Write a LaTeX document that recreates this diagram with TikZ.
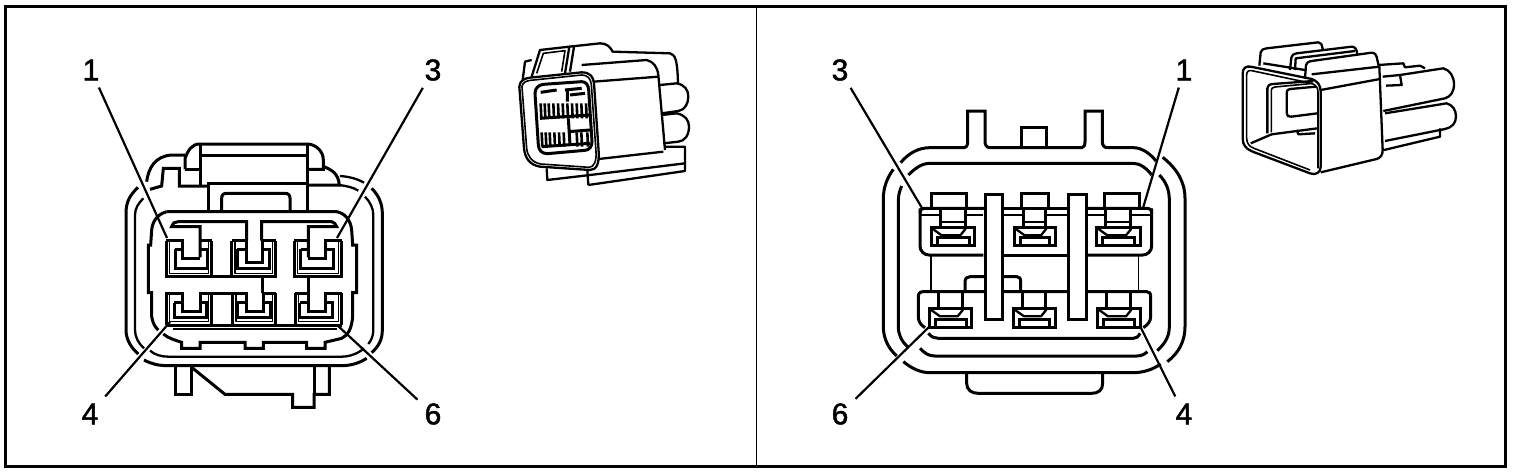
\documentclass[tikz,border=0pt]{standalone}
\usepackage{fontspec}
\setmainfont{Liberation Sans}[FakeBold=1.6]
\tikzset{
  px/.style={x=1pt,y=-1pt},
  zoomed/.style={x=0.33333pt,y=-0.33333pt},
  frameline/.style={line width=3pt,draw=black},
  divider/.style={line width=1pt,draw=black},
  heavy/.style={line width=3pt,draw=black,line join=miter},
  medium/.style={line width=2.3pt,draw=black,line join=round},
  fine/.style={line width=1.6pt,draw=black,line join=round},
  hair/.style={line width=0.8pt,draw=black},
  leader/.style={line width=2.2pt,draw=black},
  num/.style={font=\fontsize{30}{30}\selectfont,inner sep=7pt,text=black},
}
% top-row cavity of the left view: #1 = x shift, #2 = left wall, #3 = right wall
\newcommand{\lefttop}[3]{
  \draw[heavy] (#2,332) -- (#2,440) -- (#3,440) -- (#3,332);
  \draw[fine] (#2+10,335) -- (#2+10,430) -- (#3-10,430) -- (#3-10,335);
  \draw[heavy] (#1+195,358) -- (#1+218,358) (#1+195,358) -- (#1+195,415) -- (#1+292,415) -- (#1+292,358) -- (#1+270,358);
}
\newcommand{\leftbot}[3]{
  \draw[heavy] (#2,490) -- (#2,585) (#3,490) -- (#3,585);
  \draw[fine] (#2+10,495) -- (#2+10,575) -- (#3-10,575) -- (#3-10,495);
  \draw[heavy] (#1+192,518) -- (#1+192,562) -- (#1+290,562) -- (#1+290,518) -- (#1+270,518) (#1+192,518) -- (#1+218,518);
}
% cavities of the right view
\newcommand{\rightwin}[5]{
  \draw[heavy] (#1,#2) rectangle (#3,#4);
  \draw[medium] (#1+4,#2+4) -- (#1+32,#2+24) -- (#3-42,#2+24) -- (#3-26,#2+4);
  \draw[heavy] (#1+18,#4) -- (#1+18,#4-24) -- (#3-16,#4-24) -- (#3-16,#4);
  \draw[heavy] (#1+27,#5) -- (#1+27,#2) (#3-28,#5) -- (#3-28,#2);
}
\begin{document}
\begin{tikzpicture}[px]
\useasboundingbox (0,0) rectangle (1520,474);
\fill[white] (0,0) rectangle (1520,474);
\draw[frameline] (5,6) rectangle (1505,466);
\draw[divider] (756,6) -- (756,466);

%% LEFT CONNECTOR
\begin{scope}[shift={(110,130)},zoomed]
  % shells
  \draw[heavy] (84,172) .. controls (60,195) and (48,215) .. (48,250) -- (48,600) .. controls (48,630) and (65,655) .. (85,672);
  \draw[heavy] (102,690) .. controls (125,702) and (145,707) .. (175,707) -- (695,707) .. controls (725,707) and (750,698) .. (770,685);
  \draw[heavy] (785,175) .. controls (805,195) and (817,220) .. (817,250) -- (817,600) .. controls (817,630) and (805,650) .. (785,668);
  \draw[medium] (100,205) .. controls (85,220) and (75,235) .. (75,255) -- (75,600) .. controls (75,620) and (85,640) .. (102,655);
  \draw[medium] (120,662) .. controls (135,675) and (155,680) .. (175,680) -- (695,680) .. controls (720,680) and (745,670) .. (762,655);
  \draw[medium] (765,200) .. controls (780,215) and (790,235) .. (790,255) -- (790,600) .. controls (790,615) and (785,630) .. (775,642);
  % top of shell and latch
  \draw[heavy] (110,155) .. controls (115,115) and (135,78) .. (185,75) -- (225,75);
  \draw[heavy] (225,118) -- (225,85) .. controls (235,60) and (245,42) .. (270,42) -- (595,42) .. controls (620,45) and (640,65) .. (640,90) -- (640,118) -- (595,118);
  \draw[heavy] (225,118) -- (270,118) (270,42) -- (270,168) (592,42) -- (592,243) (270,75) -- (592,75);
  \draw[heavy] (120,178) -- (155,168) -- (160,115) -- (208,115) -- (208,168) -- (295,168);
  \draw[heavy] (295,243) -- (295,160) -- (592,160);
  \draw[heavy] (335,243) -- (335,205) .. controls (335,195) and (340,190) .. (350,190) -- (525,190) .. controls (535,190) and (540,195) .. (540,205) -- (540,243);
  \draw[heavy] (642,110) .. controls (665,120) and (685,130) .. (688,165) -- (592,165);
  \draw[medium] (690,138) .. controls (720,140) and (745,148) .. (762,158);
  \draw[medium] (688,165) .. controls (710,168) and (730,172) .. (745,182);
  % inner housing
  \draw[heavy] (170,245) -- (680,245) .. controls (705,250) and (722,270) .. (725,300) -- (728,345) -- (740,345) -- (740,488) -- (728,488) -- (728,560) .. controls (725,595) and (715,615) .. (695,625) -- (645,637) -- (645,655) -- (590,655) -- (590,637) -- (460,637) -- (460,655) -- (405,655) -- (405,637) -- (270,637) -- (270,655) -- (215,655) -- (215,637) .. controls (195,630) and (175,625) .. (160,612);
  \draw[heavy] (170,245) .. controls (145,252) and (128,270) .. (125,300) -- (122,345) -- (115,345) -- (115,488) -- (125,488) -- (125,560) .. controls (128,578) and (135,592) .. (145,600);
  % T-shaped ribs
  \draw[heavy] (270,382) -- (270,290) -- (185,290) .. controls (190,278) and (195,275) .. (205,275) -- (410,275) -- (410,332);
  \draw[heavy] (455,332) -- (455,275) -- (665,275) .. controls (672,277) and (678,282) .. (680,290) -- (595,290) -- (595,382);
  \draw[heavy] (168,332) -- (218,332) -- (218,385) -- (270,385);
  \draw[heavy] (270,332) -- (305,332) (365,332) -- (410,332) -- (410,397) -- (457,397) -- (457,332) -- (497,332) (552,332) -- (595,332);
  \draw[heavy] (595,385) -- (645,385) -- (645,332) -- (697,332);
  \lefttop{0}{168}{305}
  \lefttop{187}{365}{497}
  \lefttop{377}{552}{695}
  \draw[heavy] (305,440) -- (365,440);
  \draw[heavy] (457,440) -- (457,490) (595,440) -- (595,490);
  % lower row
  \draw[heavy] (165,490) -- (218,490) -- (218,545) -- (270,545) -- (270,490) -- (410,490) -- (410,545) -- (460,545) -- (460,490) -- (497,490) (555,490) -- (595,490) -- (595,545) -- (645,545) -- (645,490) -- (697,490);
  \leftbot{0}{168}{305}
  \leftbot{190}{368}{497}
  \leftbot{377}{555}{695}
  \draw[heavy] (168,585) -- (695,585);
  \draw[medium] (190,598) -- (680,598);
  % lower tabs
  \draw[heavy] (195,710) -- (195,793) -- (245,793) -- (245,710);
  \draw[heavy] (245,712) -- (345,793) -- (548,793) -- (548,832) -- (612,832) -- (612,793) -- (658,793) -- (658,710);
  \draw[heavy] (612,710) -- (612,793);
\end{scope}

%% RIGHT CONNECTOR
\begin{scope}[shift={(870,100)},zoomed]
  \draw[heavy] (92,188) .. controls (115,160) and (145,143) .. (180,143) -- (280,143) .. controls (290,143) and (293,135) .. (293,125) -- (293,33) -- (345,33) -- (345,125) .. controls (345,135) and (350,143) .. (360,143) -- (635,143) .. controls (642,143) and (645,135) .. (645,125) -- (645,33) -- (697,33) -- (697,125) .. controls (697,135) and (702,143) .. (712,143) -- (790,143) .. controls (815,143) and (840,160) .. (858,183);
  \draw[heavy] (878,172) .. controls (920,205) and (945,245) .. (945,295) -- (945,680) .. controls (945,725) and (925,760) .. (892,785);
  \draw[heavy] (70,208) .. controls (50,235) and (40,265) .. (40,295) -- (40,680) .. controls (40,715) and (55,745) .. (80,768);
  \draw[heavy] (100,785) .. controls (125,805) and (150,818) .. (180,818) -- (790,818) .. controls (820,818) and (850,808) .. (872,792);
  \draw[heavy] (455,143) -- (455,82) -- (530,82) -- (530,143);
  \draw[heavy] (290,818) -- (290,850) .. controls (290,870) and (305,880) .. (325,880) -- (665,880) .. controls (685,880) and (698,870) .. (698,850) -- (698,818);
  \draw[heavy] (115,225) .. controls (135,205) and (155,190) .. (180,190) -- (790,190) .. controls (810,190) and (830,205) .. (845,225);
  \draw[heavy] (868,225) .. controls (888,245) and (898,270) .. (898,300) -- (898,680) .. controls (898,710) and (885,730) .. (862,752);
  \draw[heavy] (95,258) .. controls (88,275) and (85,285) .. (85,305) -- (85,680) .. controls (85,705) and (95,725) .. (115,742);
  \draw[heavy] (150,745) .. controls (165,760) and (175,768) .. (195,768) -- (800,768) .. controls (815,768) and (825,762) .. (832,755);
  \draw[heavy] (175,700) .. controls (185,712) and (195,715) .. (205,715) -- (790,715) .. controls (800,715) and (805,710) .. (810,700);
  % top row
  \draw[heavy,rounded corners=9pt] (150,325) -- (150,465) -- (340,465);
  \draw[heavy] (150,340) .. controls (150,330) and (155,325) .. (165,325) -- (345,325);
  \draw[heavy,rounded corners=9pt] (402,465) -- (592,465);
  \draw[heavy] (400,325) -- (595,325);
  \draw[heavy] (650,325) -- (830,325) .. controls (840,325) and (845,330) .. (845,340);
  \draw[heavy,rounded corners=9pt] (650,465) -- (845,465) -- (845,325);
  \draw[medium] (150,346) -- (210,346) (285,346) -- (340,346) (402,346) -- (459,346) (527,346) -- (592,346) (650,346) -- (707,346) (782,346) -- (845,346);
  \draw[heavy] (183,325) -- (183,280) -- (288,280) -- (288,325) (453,325) -- (453,280) -- (535,280) -- (535,325) (703,325) -- (703,280) -- (807,280) -- (807,325);
  \rightwin{183}{382}{313}{435}{330}
  \rightwin{432}{382}{555}{435}{330}
  \rightwin{680}{382}{810}{435}{330}
  \draw[medium] (210,366) -- (285,366) (459,366) -- (527,366) (707,366) -- (782,366);
  % thin webs and bridge
  \draw[medium] (183,468) -- (183,575);
  \draw[hair] (805,468) -- (805,575);
  \draw[heavy] (285,575) -- (285,545) .. controls (285,535) and (292,530) .. (300,530) -- (440,530) .. controls (448,530) and (452,535) .. (452,545) -- (452,575);
  % bottom row
  \draw[heavy] (165,683) .. controls (152,675) and (145,665) .. (145,650) -- (145,590) .. controls (145,580) and (150,575) .. (160,575) -- (350,575) (400,575) -- (595,575) (648,575) -- (830,575) .. controls (838,575) and (842,580) .. (842,590) -- (842,650) .. controls (842,665) and (832,675) .. (820,683);
  \rightwin{178}{625}{305}{682}{578}
  \rightwin{430}{625}{555}{682}{578}
  \rightwin{682}{625}{810}{682}{578}
  % vertical bars over everything
  \filldraw[heavy,fill=white] (345,283) rectangle (398,658);
  \filldraw[heavy,fill=white] (595,283) rectangle (648,658);
\end{scope}

%% LEFT THUMBNAIL
\begin{scope}[shift={(510,35)},zoomed]
  \draw[medium] (28,155) .. controls (30,135) and (45,130) .. (60,128) -- (215,112) .. controls (240,112) and (250,125) .. (252,145) -- (266,350) .. controls (268,385) and (260,405) .. (240,405) -- (90,395) .. controls (60,390) and (45,370) .. (42,340) -- cycle;
  \draw[fine] (36,155) .. controls (38,142) and (48,138) .. (62,136) -- (215,120) .. controls (232,120) and (242,130) .. (244,148) -- (258,350) .. controls (260,378) and (252,396) .. (238,397) -- (92,387) .. controls (66,382) and (53,365) .. (50,340) -- cycle;
  \draw[heavy] (75,175) .. controls (75,160) and (85,150) .. (100,148) -- (215,140) .. controls (228,140) and (235,150) .. (236,165) -- (246,320) .. controls (246,335) and (238,345) .. (225,346) -- (112,356) .. controls (95,356) and (86,345) .. (85,330) -- cycle;
  \draw[heavy] (92,172) -- (140,165) (165,165) -- (215,160) (172,165) -- (172,200) (225,175) -- (180,180);
  \foreach \hx in {92,104,116,130,144,158,172,186,200,214,228} {\draw[line width=2.6pt] (\hx,205) -- (\hx+2,250);}
  \foreach \hx in {95,107,119,133,147,161,200,214,232} {\draw[line width=2.6pt] (\hx,292) -- (\hx+2,335);}
  \draw[heavy] (90,250) -- (240,240) (95,335) -- (240,325) (175,250) -- (180,330) (175,290) -- (240,285);
  \draw[medium] (65,125) -- (90,45) -- (178,35) -- (165,115);
  \draw[fine] (80,115) -- (100,55) -- (165,47) -- (155,110);
  \draw[medium] (65,75) -- (45,80) -- (38,135);
  \draw[medium] (178,35) -- (270,25) .. controls (290,25) and (300,35) .. (308,50) -- (480,55) .. controls (495,60) and (502,70) .. (504,145);
  \draw[medium] (180,110) -- (192,35);
  \draw[medium] (215,90) -- (410,75) .. controls (430,80) and (442,95) .. (445,120) -- (465,345);
  \draw[medium] (250,140) -- (445,125);
  \draw[medium] (266,372) -- (460,350);
  \draw[medium] (240,420) -- (525,385) -- (525,335) -- (462,335);
  \draw[medium] (235,450) -- (525,408) -- (525,385);
  \draw[medium] (450,150) -- (500,145) .. controls (525,150) and (535,165) .. (535,185) .. controls (535,205) and (525,225) .. (505,228) -- (455,235);
  \draw[medium] (455,240) -- (500,235) .. controls (525,240) and (537,255) .. (537,275) .. controls (537,300) and (525,318) .. (505,320) -- (460,325);
  \draw[medium] (110,400) -- (112,435) -- (240,420) (232,405) -- (235,450);
\end{scope}

%% RIGHT THUMBNAIL
\begin{scope}[shift={(1230,35)},zoomed]
  \draw[medium] (38,115) .. controls (38,100) and (48,92) .. (62,95) -- (245,132) .. controls (262,138) and (272,150) .. (272,170) -- (272,395) .. controls (272,412) and (258,422) .. (240,415) -- (68,350) .. controls (48,342) and (38,330) .. (38,310) -- cycle;
  \draw[fine] (50,120) .. controls (50,110) and (55,105) .. (65,107) -- (245,145) .. controls (258,150) and (264,158) .. (264,172) -- (264,400);
  \draw[fine] (50,120) -- (50,310) .. controls (50,325) and (58,335) .. (72,340) -- (240,405);
  \draw[medium] (62,325) -- (125,298) (125,298) -- (262,280);
  \draw[medium] (112,295) -- (112,160) .. controls (112,152) and (118,148) .. (128,147) -- (250,138);
  \draw[fine] (124,292) -- (124,165) .. controls (124,160) and (128,157) .. (135,156) -- (250,145);
  \draw[medium] (170,235) -- (170,172) .. controls (170,166) and (174,163) .. (180,162) -- (258,155);
  \draw[medium] (170,235) .. controls (170,243) and (176,246) .. (184,245) -- (262,235);
  \draw[medium] (200,285) -- (205,298) -- (255,295);
  \draw[medium] (272,165) -- (450,132) (272,412) -- (440,372) .. controls (452,368) and (458,360) .. (458,345) -- (448,95);
  \draw[medium] (225,130) -- (228,90) .. controls (230,82) and (235,80) .. (245,78) -- (425,53) .. controls (435,53) and (440,60) .. (442,75) -- (448,100);
  \draw[medium] (245,118) -- (448,95);
  \draw[medium] (88,92) -- (92,52) .. controls (92,45) and (100,42) .. (110,40) -- (265,22) .. controls (272,22) and (276,28) .. (278,42);
  \draw[medium] (100,85) -- (225,105) (180,105) -- (184,68) .. controls (185,60) and (190,58) .. (200,55) -- (365,35) .. controls (375,35) and (380,42) .. (382,58);
  \draw[medium] (195,105) -- (197,70) -- (375,48);
  \draw[medium] (445,90) -- (520,85) -- (525,97) -- (570,92) -- (585,100);
  \draw[medium] (458,125) -- (510,120) -- (515,150) -- (468,152);
  \draw[medium] (510,120) -- (640,100) .. controls (660,105) and (672,125) .. (672,148) .. controls (672,170) and (662,185) .. (645,190) -- (460,228);
  \draw[medium] (465,235) -- (650,205) .. controls (668,210) and (678,225) .. (678,245) .. controls (678,265) and (665,278) .. (645,282) -- (465,318);
  \draw[medium] (630,280) -- (630,305) -- (462,345);
\end{scope}

%% LABELS AND LEADERS
\node[num] (l1L) at (91,70) {1};
\node[num] (l3L) at (433,70) {3};
\node[num] (l4L) at (90,414) {4};
\node[num] (l6L) at (433,414) {6};
\node[num] (l3R) at (840,70) {3};
\node[num] (l1R) at (1184,70) {1};
\node[num] (l6R) at (840,414) {6};
\node[num] (l4R) at (1184,414) {4};
\coordinate (p1L) at (167,238);
\coordinate (p3L) at (337,238);
\coordinate (p4L) at (170,322);
\coordinate (p6L) at (337,325);
\coordinate (p3R) at (922,208);
\coordinate (p1R) at (1143,208);
\coordinate (p6R) at (930,326);
\coordinate (p4R) at (1140,326);
\foreach \n in {1L,3L,4L,6L,3R,1R,6R,4R} {\draw[leader] (l\n) -- (p\n);}
\end{tikzpicture}
\end{document}
